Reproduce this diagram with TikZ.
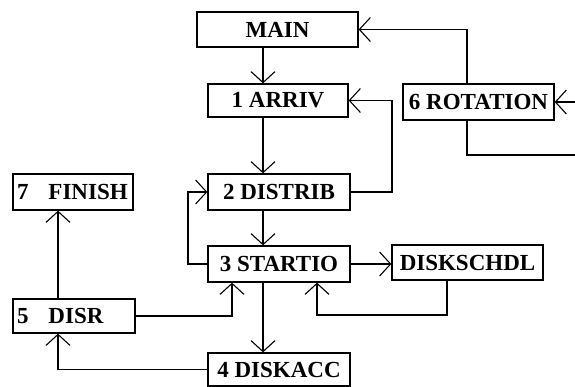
\documentclass[tikz,border=0pt]{standalone}
\usepackage{fontspec}
\setmainfont{Liberation Serif}
\usetikzlibrary{arrows.meta}
\begin{document}
\begin{tikzpicture}[x=1pt,y=-1pt,
  box/.style={draw, line width=1.3pt, inner sep=0pt, font=\fontsize{23}{23}\selectfont\bfseries},
  leftbox/.style={box, align=left, inner xsep=4pt},
  link/.style={line width=1.3pt},
  arr/.style={link, -{Straight Barb[length=11pt,width=24pt,line width=1.1pt]}}]
\useasboundingbox (0,0) rectangle (575,387);

% procedure boxes
\node[box, minimum width=161pt, minimum height=35pt] (main) at (277.5,29.5) {MAIN\hspace{16pt}};
\node[box, minimum width=140pt, minimum height=33pt] (arriv) at (278,100.5) {1 ARRIV};
\node[box, minimum width=151pt, minimum height=36pt] (rot) at (478.5,102) {6 ROTATION};
\node[box, minimum width=142pt, minimum height=36pt] (distrib) at (279,192) {2 DISTRIB};
\node[leftbox, text width=112pt, minimum height=36pt] (finish) at (73,192) {7\hspace{20pt}FINISH};
\node[box, minimum width=142pt, minimum height=36pt] (startio) at (279,264) {3 STARTIO};
\node[box, minimum width=151pt, minimum height=35pt] (schdl) at (467.5,262.5) {DISKSCHDL};
\node[leftbox, text width=114pt, minimum height=34pt] (disr) at (74,316) {5\hspace{20pt}DISR};
\node[box, minimum width=142pt, minimum height=33pt] (diskacc) at (279,369.5) {4 DISKACC};

% routing columns and free ends
\coordinate (spine) at (263,0);
\coordinate (rx) at (467,0);
\coordinate (c1) at (392,0);
\coordinate (c2) at (188,0);
\coordinate (c3) at (447,315);
\coordinate (c4) at (317,0);
\coordinate (c5) at (232,0);
\coordinate (c6) at (58,0);
\coordinate (inR) at (575,102);
\coordinate (outR) at (575,155);

% main call chain
\draw[arr] (main.south -| spine) -- (arriv.north -| spine);
\draw[arr] (arriv.south -| spine) -- (distrib.north -| spine);
\draw[arr] (distrib.south -| spine) -- (startio.north -| spine);
\draw[arr] (startio.south -| spine) -- (diskacc.north -| spine);

% rotation loop
\draw[arr] (rot.north -| rx) |- (main.east);
\draw[arr] (inR) -- (rot.east);
\draw[link] (rot.south -| rx) |- (outR);

% feedback paths
\draw[arr] (distrib.east) -- (distrib.east -| c1) |- (arriv.east);
\draw[arr] (startio.west) -- (startio.west -| c2) |- (distrib.west);
\draw[arr] (startio.east) -- (schdl.west |- startio.east);
\draw[arr] (schdl.south -| c3) -- (c3) -| (startio.south -| c4);
\draw[arr] (disr.east) -| (startio.south -| c5);
\draw[arr] (diskacc.west) -| (disr.south -| c6);
\draw[arr] (disr.north -| c6) -- (finish.south -| c6);
\end{tikzpicture}
\end{document}
